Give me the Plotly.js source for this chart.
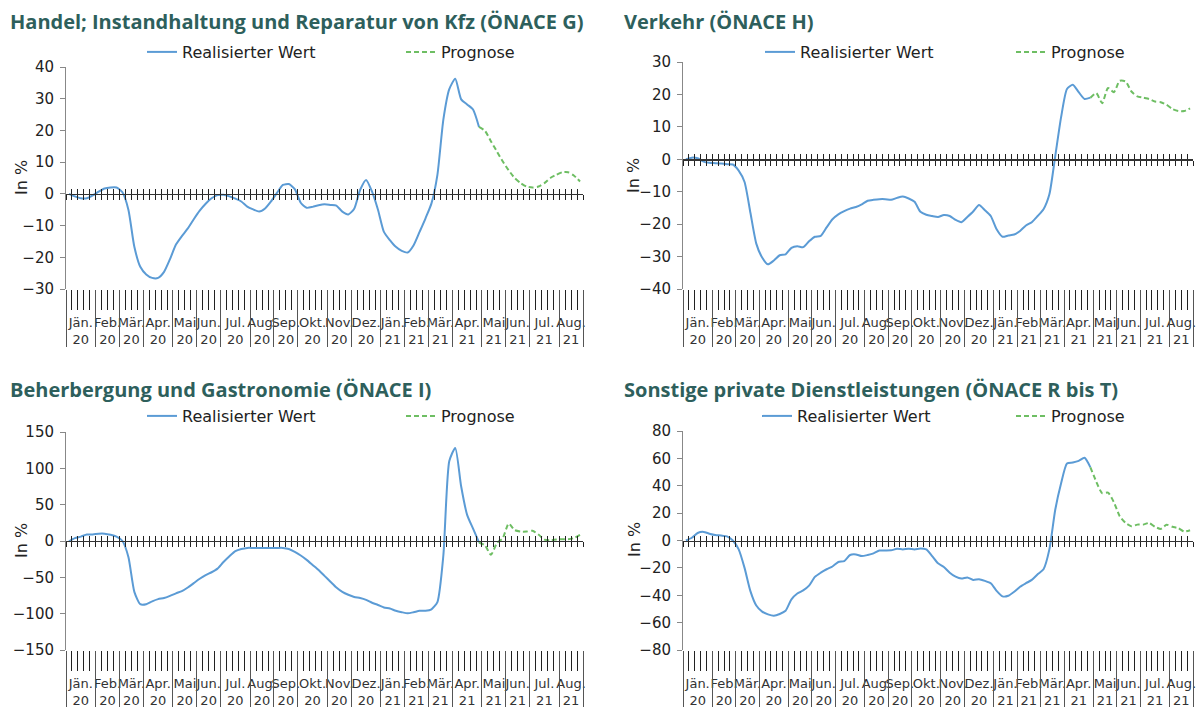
<!DOCTYPE html>
<html><head><meta charset="utf-8">
<script src="https://cdn.plot.ly/plotly-3.0.1.min.js"></script>
<style>html,body{margin:0;padding:0;background:#fff}#chart{width:1196px;height:707px}</style>
</head><body><div id="chart"></div>
<script>
// ---------- DATA ----------
const monthLabels = ["Jän.","Feb.","Mär.","Apr.","Mai","Jun.","Jul.","Aug.","Sep.","Okt.","Nov.","Dez.","Jän.","Feb.","Mär.","Apr.","Mai","Jun.","Jul.","Aug."];
const yearLabels  = ["20","20","20","20","20","20","20","20","20","20","20","20","21","21","21","21","21","21","21","21"];
const weeksPerMonth = [5,4,4,5,4,4,5,4,4,5,4,5,4,4,4,5,4,4,5,4];

const titles = [
  "Handel; Instandhaltung und Reparatur von Kfz (ÖNACE G)",
  "Verkehr (ÖNACE H)",
  "Beherbergung und Gastronomie (ÖNACE I)",
  "Sonstige private Dienstleistungen (ÖNACE R bis T)"
];
const seriesNames = ["Realisierter Wert","Prognose"];
const forecastStartWeek = 69;

// Realisierter Wert, weeks 0..69
const realG = [0,-0.8,-1.4,-1.4,-0.5,0.7,1.7,2.0,2.0,0.5,
  -5.0,-16.7,-23.0,-25.4,-26.5,-26.5,-24.6,-20.6,-16.0,-13.3,
  -10.9,-8.0,-5.3,-3.1,-1.4,-0.4,-0.3,-0.8,-1.5,-2.4,
  -4.0,-4.9,-5.6,-4.6,-2.4,0.3,2.8,3.1,1.5,-2.8,
  -4.4,-4.1,-3.6,-3.3,-3.5,-3.7,-5.6,-6.5,-4.7,1.3,
  4.4,0.7,-5.0,-12.0,-14.6,-16.7,-18.0,-18.5,-16.2,-12.0,
  -7.7,-3.0,6.0,23.4,33.0,36.3,29.8,28.2,26.6,21.1];
const realH = [0,0.5,0.3,-0.7,-1.1,-1.2,-1.3,-1.5,-1.6,-3.5,
  -7.0,-16.5,-26.0,-30.3,-32.4,-31.2,-29.6,-29.3,-27.3,-26.8,
  -27.1,-25.3,-23.9,-23.6,-21.0,-18.5,-17.0,-16.0,-15.2,-14.7,
  -13.9,-12.8,-12.5,-12.3,-12.3,-12.5,-11.9,-11.5,-12.1,-13.1,
  -16.2,-17.1,-17.5,-17.8,-17.2,-17.5,-18.7,-19.4,-17.8,-16.1,
  -14.1,-15.7,-17.5,-21.6,-23.9,-23.5,-23.2,-22.1,-20.4,-19.4,
  -17.5,-15.4,-10.8,1.0,13.0,21.7,23.0,20.7,18.6,19.0];
const realI = [-0.5,4,6,9,9,10,10,8.5,6,0,
  -22,-70,-87,-87,-83,-80,-78.5,-75.5,-72,-69,
  -64,-58,-52,-47,-43,-38,-29,-21,-14,-11,
  -9.5,-9.5,-9.5,-9.5,-9.5,-9.5,-9.5,-11,-15,-20,
  -26,-33,-40,-48,-56,-64,-70,-74,-77,-78.5,
  -81,-85,-88,-91.5,-93,-96,-98,-99.5,-98,-96,
  -96,-94,-84,-20,110,128,75,36,17,-2];
const realRT = [0,2,5.5,6.3,5,4,3.6,3,0,-6.5,
  -20,-37,-47.5,-52,-54,-55,-53.7,-51.3,-43,-38.7,
  -36.5,-33,-26.6,-23.5,-21,-19,-15.7,-15,-10.6,-10.2,
  -11.4,-10.6,-9.4,-7.3,-7.3,-7.2,-6,-6.5,-6,-6.5,
  -5.8,-6.5,-11.4,-16.7,-19.3,-23.5,-26.4,-27.8,-27,-28.8,
  -28.3,-29.5,-31.2,-36.8,-40.8,-40.4,-37.5,-33.8,-31.2,-28.8,
  -24.7,-21,-6.5,22.5,41.8,56.3,57,58.2,60.4,53.4];

// Prognose, weeks 69..86
const progG  = [21.1,19.9,16.6,13.4,10.2,7.4,5.0,3.4,2.3,2.0,2.3,3.4,5.0,6.0,6.8,6.8,5.7,3.9];
const progH  = [19.0,20.4,17.3,22.0,20.7,24.2,24.0,20.9,19.4,19.0,18.6,17.8,17.6,16.8,15.5,14.9,14.9,15.7];
const progI  = [-2,-6,-19,-3,4,24,15,13,13,14,9,2,1,2,2.5,2.5,4,8.5];
const progRT = [53.4,43,34.6,35,28,17.7,12.8,10.4,11.6,11.6,12.8,10,8.5,11.5,10,9,6.5,7.5];

// ---------- LAYOUT ----------
const W = 1196, H = 707;
const F = "DejaVu Sans";
const TF = "Open Sans";
const BLUE = "#5B9BD5", GREEN = "#6EBE63", TITLE = "#2E5F5C";

const panels = [
  {title:titles[0], real:realG,  prog:progG,  yr:[-30,40],   dt:10, px:[66,583],  py:[67,289],  tx:8,   ty:22,  ly:52,  lx:142, ew:214, yt:[21,178]},
  {title:titles[1], real:realH,  prog:progH,  yr:[-40,30],   dt:10, px:[683,1193], py:[62,289], tx:622, ty:22,  ly:52,  lx:760, ew:206, yt:[634,176]},
  {title:titles[2], real:realI,  prog:progI,  yr:[-150,150], dt:50, px:[66,583],  py:[432,650], tx:8,   ty:389, ly:416, lx:142, ew:214, yt:[21,541]},
  {title:titles[3], real:realRT, prog:progRT, yr:[-80,80],   dt:20, px:[683,1193], py:[431,650], tx:622, ty:389, ly:416, lx:757, ew:209, yt:[634,540]}
];

const nWeeks = weeksPerMonth.reduce((a,b)=>a+b,0);
const monthBounds = [-0.5], monthCenters = [];
let acc = 0;
weeksPerMonth.forEach(n => { monthCenters.push(acc + (n-1)/2); acc += n; monthBounds.push(acc - 0.5); });
const weekBounds = Array.from({length: nWeeks+1}, (_, i) => i - 0.5);
const ticktext = monthLabels.map((m,i) => m + "<br>" + yearLabels[i]);
const xRange = [-0.5, nWeeks - 0.5];

const id = n => n === 1 ? "" : String(n);
const layout = {
  width: W, height: H, margin:{l:0,r:0,t:0,b:0,autoexpand:false},
  paper_bgcolor:"#fff", plot_bgcolor:"rgba(0,0,0,0)",
  showlegend:true, annotations:[], hovermode:false
};
const data = [];

panels.forEach((p, k) => {
  const xd = [p.px[0]/W, p.px[1]/W];
  const yd = [1 - p.py[1]/H, 1 - p.py[0]/H];
  const b = 5*k;
  const yid = "y" + id(k+1), xmain = "x" + id(b+1);
  const common = {range:xRange, showgrid:false, zeroline:false, fixedrange:true};

  layout["xaxis"+id(b+1)] = Object.assign({}, common, {
    domain:xd, anchor:yid, tickmode:"array", tickvals:monthCenters, ticktext:ticktext,
    ticks:"outside", ticklen:21, tickcolor:"rgba(0,0,0,0)", showline:false, tickangle:0,
    ticklabeloverflow:"allow",
    tickfont:{family:F, size:13, color:"#333"}
  });
  layout["xaxis"+id(b+2)] = Object.assign({}, common, {
    overlaying:xmain, anchor:yid, tickmode:"array", tickvals:weekBounds,
    ticks:"outside", ticklen:20, tickcolor:"#222", tickwidth:1, showticklabels:false, showline:false
  });
  layout["xaxis"+id(b+3)] = Object.assign({}, common, {
    overlaying:xmain, anchor:yid, tickmode:"array", tickvals:monthBounds,
    ticks:"outside", ticklen:57, tickcolor:"#555", tickwidth:1, showticklabels:false, showline:false
  });
  const zp = yd[0] + (0 - p.yr[0])/(p.yr[1]-p.yr[0])*(yd[1]-yd[0]);
  layout["xaxis"+id(b+4)] = Object.assign({}, common, {
    overlaying:xmain, anchor:"free", position:zp, tickmode:"array", tickvals:weekBounds,
    ticks:"outside", ticklen:5, tickcolor:"#222", tickwidth:1, showticklabels:false,
    showline:true, linecolor:"#333", linewidth:1.3
  });
  layout["xaxis"+id(b+5)] = Object.assign({}, common, {
    overlaying:xmain, anchor:"free", position:zp, tickmode:"array", tickvals:weekBounds,
    ticks:"inside", ticklen:5, tickcolor:"#222", tickwidth:1, showticklabels:false, showline:false
  });
  layout["yaxis"+id(k+1)] = {
    domain:yd, anchor:xmain, range:p.yr, tickmode:"linear", tick0:0, dtick:p.dt,
    ticks:"outside", ticklen:5, tickcolor:"#888", showline:true, linecolor:"#888", linewidth:1,
    showgrid:false, zeroline:false, fixedrange:true, ticklabelstandoff:3,
    tickfont:{family:F, size:15, color:"#222"}
  };

  for (let j = 2; j <= 5; j++) {
    data.push({x:[], y:[], xaxis:"x"+id(b+j), yaxis:yid, showlegend:false, hoverinfo:"skip", type:"scatter"});
  }

  const leg = "legend" + id(k+1);
  layout[leg] = {
    x:p.lx/W, y:1 - p.ly/H, xanchor:"left", yanchor:"middle", orientation:"h",
    bgcolor:"rgba(0,0,0,0)", font:{family:F, size:16, color:"#222"},
    entrywidth:p.ew, entrywidthmode:"pixels", traceorder:"normal"
  };

  data.push({
    type:"scatter", mode:"lines", name:seriesNames[0], legend:leg,
    x:p.real.map((v,i)=>i), y:p.real, xaxis:xmain, yaxis:yid,
    line:{color:BLUE, width:2, shape:"spline", smoothing:0.6}
  });
  data.push({
    type:"scatter", mode:"lines", name:seriesNames[1], legend:leg,
    x:p.prog.map((v,i)=>i + forecastStartWeek), y:p.prog, xaxis:xmain, yaxis:yid,
    line:{color:GREEN, width:2, dash:"5px,3px", shape:"spline", smoothing:0.6}
  });

  layout.annotations.push({
    xref:"paper", yref:"paper", x:p.tx/W, y:1 - p.ty/H, xanchor:"left", yanchor:"middle",
    text:"<b>"+p.title+"</b>", showarrow:false, font:{family:TF, size:20, color:TITLE}
  });
  layout.annotations.push({
    xref:"paper", yref:"paper", x:p.yt[0]/W, y:1 - p.yt[1]/H, xanchor:"center", yanchor:"middle",
    text:"In %", textangle:-90, showarrow:false, font:{family:F, size:16, color:"#222"}
  });
});

Plotly.newPlot("chart", data, layout, {staticPlot:true, displayModeBar:false});
</script></body></html>
